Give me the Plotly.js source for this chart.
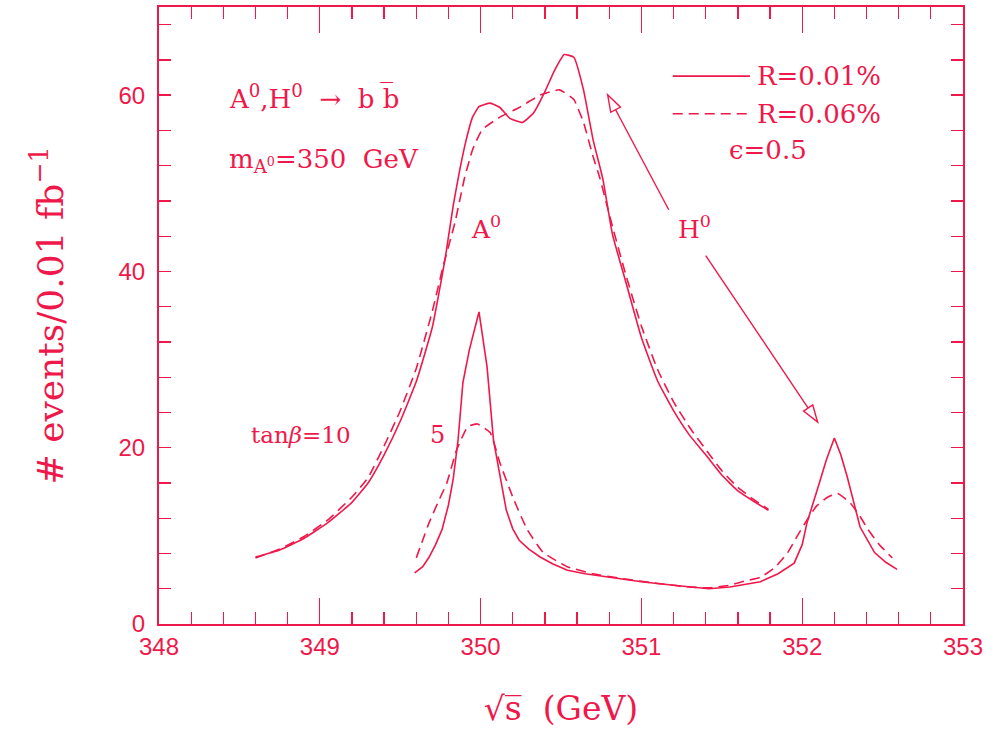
<!DOCTYPE html>
<html>
<head>
<meta charset="utf-8">
<script src="https://cdn.plot.ly/plotly-3.0.1.min.js"></script>
<style>html,body{margin:0;padding:0;background:#fff;}#chart{width:996px;height:734px;}</style>
</head>
<body>
<div id="chart"></div>
<script>
// tan(beta)=10, R=0.01% (solid)
const x10Solid = [348.6, 348.75, 348.9, 349.05, 349.2, 349.3, 349.4, 349.5, 349.6, 349.7, 349.78, 349.83, 349.87, 349.91, 349.95, 349.99, 350.06, 350.12, 350.18, 350.26, 350.33, 350.4, 350.46, 350.52, 350.58, 350.64, 350.7, 350.76, 350.82, 350.9, 351.0, 351.1, 351.2, 351.3, 351.4, 351.5, 351.6, 351.7, 351.79];
const y10Solid = [7.6, 8.4, 9.7, 11.5, 13.8, 16.0, 19.2, 23.0, 27.5, 33.7, 41.5, 47.5, 51.5, 54.9, 57.5, 58.7, 59.1, 58.6, 57.4, 56.9, 58.0, 60.4, 62.8, 64.6, 64.3, 60.6, 54.9, 50.5, 44.2, 39.0, 32.5, 27.6, 24.2, 21.4, 19.2, 16.9, 15.1, 13.9, 12.9];
// tan(beta)=10, R=0.06% (dashed)
const x10Dash = [348.6, 348.75, 348.9, 349.05, 349.2, 349.3, 349.4, 349.5, 349.6, 349.7, 349.77, 349.84, 349.9, 349.95, 350.01, 350.12, 350.24, 350.37, 350.49, 350.58, 350.64, 350.7, 350.74, 350.82, 350.9, 351.0, 351.1, 351.2, 351.3, 351.4, 351.5, 351.6, 351.7, 351.79];
const y10Dash = [7.5, 8.5, 9.9, 11.8, 14.4, 16.6, 20.2, 24.2, 29.0, 35.5, 40.8, 45.5, 50.6, 53.8, 56.1, 57.5, 58.6, 60.0, 60.6, 59.5, 56.9, 53.0, 50.7, 45.1, 39.8, 33.8, 28.9, 25.2, 22.3, 19.8, 17.4, 15.5, 14.1, 13.0];
// tan(beta)=5, R=0.01% (solid)
const x5Solid = [349.59, 349.64, 349.68, 349.72, 349.76, 349.8, 349.83, 349.86, 349.89, 349.93, 349.99, 350.04, 350.08, 350.12, 350.16, 350.2, 350.24, 350.3, 350.37, 350.45, 350.54, 350.65, 350.8, 351.0, 351.2, 351.42, 351.55, 351.65, 351.74, 351.85, 351.95, 352.0, 352.03, 352.1, 352.15, 352.2, 352.24, 352.28, 352.32, 352.36, 352.45, 352.52, 352.59];
const y5Solid = [5.8, 6.5, 7.6, 9.0, 10.7, 13.5, 16.5, 20.9, 27.4, 31.1, 35.4, 29.2, 20.9, 16.7, 12.9, 10.8, 9.5, 8.5, 7.6, 6.8, 6.1, 5.7, 5.3, 4.8, 4.4, 4.0, 4.2, 4.5, 4.8, 5.7, 6.9, 9.0, 11.5, 15.6, 18.6, 21.1, 19.2, 16.7, 13.8, 11.0, 8.1, 7.0, 6.2];
// tan(beta)=5, R=0.06% (dashed)
const x5Dash = [349.6, 349.68, 349.74, 349.79, 349.85, 349.92, 349.98, 350.06, 350.12, 350.2, 350.29, 350.39, 350.54, 350.7, 350.9, 351.1, 351.3, 351.42, 351.55, 351.65, 351.74, 351.83, 351.91, 351.97, 352.03, 352.09, 352.16, 352.22, 352.3, 352.36, 352.41, 352.48, 352.56];
const y5Dash = [7.5, 11.5, 14.0, 16.0, 19.7, 22.4, 22.7, 21.7, 18.3, 14.4, 10.7, 8.1, 6.5, 5.7, 5.1, 4.6, 4.2, 4.1, 4.4, 4.9, 5.3, 6.4, 8.1, 10.0, 11.8, 13.4, 14.4, 14.8, 13.7, 12.2, 10.7, 9.0, 7.5];

const xTickVals = [348, 349, 350, 351, 352, 353];
const yTickVals = [0, 20, 40, 60];
const seriesNames = ["R=0.01%", "R=0.06%"];

const C = "#ef184a";
const FONT = "DejaVu Serif";
const TFONT = "Liberation Sans";
const DASH = "10px,6px";

const solid = {color: C, width: 1.6, shape: "spline", smoothing: 0.4};
const dashed = {color: C, width: 1.6, dash: DASH, shape: "spline", smoothing: 0.4};

const traces = [
  {x: x10Solid, y: y10Solid, mode: "lines", line: solid, name: seriesNames[0] + " tanβ=10", showlegend: false, hoverinfo: "skip"},
  {x: x10Dash, y: y10Dash, mode: "lines", line: dashed, name: seriesNames[1] + " tanβ=10", showlegend: false, hoverinfo: "skip"},
  {x: x5Solid, y: y5Solid, mode: "lines", line: {color: C, width: 1.6, shape: "linear"}, name: seriesNames[0] + " tanβ=5", showlegend: false, hoverinfo: "skip"},
  {x: x5Dash, y: y5Dash, mode: "lines", line: dashed, name: seriesNames[1] + " tanβ=5", showlegend: false, hoverinfo: "skip"}
];

// layout geometry
const W = 996, H = 734, mL = 159, mR = 33, mT = 7, mB = 110;
const xr = [348, 353], yr = [0, 70];
const pxX = (W - mL - mR) / (xr[1] - xr[0]);
const pxY = (H - mT - mB) / (yr[1] - yr[0]);

// arrows (open triangle heads), endpoints in data coordinates
function arrowShapes(x0, y0, x1, y1) {
  const dxp = (x1 - x0) * pxX, dyp = (y1 - y0) * pxY;
  const len = Math.hypot(dxp, dyp);
  const ux = dxp / len, uy = dyp / len;
  const L = 17, Wd = 5.5;
  const bx = -ux * L, by = -uy * L;
  const nx = -uy * Wd, ny = ux * Wd;
  const p1 = [x1 + (bx + nx) / pxX, y1 + (by + ny) / pxY];
  const p2 = [x1 + (bx - nx) / pxX, y1 + (by - ny) / pxY];
  const base = [x1 + bx / pxX, y1 + by / pxY];
  return [
    {type: "line", xref: "x", yref: "y", x0: x0, y0: y0, x1: base[0], y1: base[1], line: {color: C, width: 1.4}},
    {type: "path", xref: "x", yref: "y", path: `M ${x1} ${y1} L ${p1[0]} ${p1[1]} L ${p2[0]} ${p2[1]} Z`, line: {color: C, width: 1.4}, fillcolor: "rgba(0,0,0,0)"}
  ];
}

const shapes = [].concat(
  arrowShapes(351.17, 47.0, 350.79, 60.05),
  arrowShapes(351.40, 41.8, 352.096, 22.9),
  [
    {type: "line", xref: "paper", yref: "paper", x0: 0.639, x1: 0.735, y0: 0.888, y1: 0.888, line: {color: C, width: 1.6}},
    {type: "line", xref: "paper", yref: "paper", x0: 0.639, x1: 0.735, y0: 0.827, y1: 0.827, line: {color: C, width: 1.6, dash: DASH}}
  ]
);

function ann(text, x, y, size, anchor) {
  return {text: text, x: x, y: y, xref: "paper", yref: "paper", xanchor: anchor || "left", yanchor: "middle", showarrow: false, font: {family: FONT, size: size || 24, color: C}};
}

const NB = "\u00a0";
const annotations = [
  ann("A<sup>0</sup>,H<sup>0</sup>" + NB + NB + "→" + NB + NB + "b" + NB + "b\u0305", 0.0847, 0.854, 26),
  ann("m<sub>A<sup>0</sup></sub>=350" + NB + NB + "GeV", 0.0847, 0.752, 26),
  ann("A<sup>0</sup>", 0.386, 0.642, 25),
  ann("H<sup>0</sup>", 0.643, 0.642, 25),
  ann("tan<i>β</i>=10", 0.112, 0.306, 23),
  ann("5", 0.334, 0.306, 24),
  ann(seriesNames[0], 0.741, 0.888, 26),
  ann(seriesNames[1], 0.741, 0.827, 26),
  ann("ϵ=0.5", 0.706, 0.768, 26)
];

const layout = {
  width: W, height: H,
  margin: {l: mL, r: mR, t: mT, b: mB},
  paper_bgcolor: "#fff", plot_bgcolor: "#fff",
  showlegend: false,
  xaxis: {
    range: xr, tickvals: xTickVals, ticktext: xTickVals.map(String),
    ticks: "inside", ticklen: 26, tickwidth: 1.3, tickcolor: C,
    minor: {dtick: 0.2, ticks: "inside", ticklen: 12, tickwidth: 1.3, tickcolor: C, showgrid: false},
    showline: true, linecolor: C, linewidth: 2, mirror: "ticks",
    showgrid: false, zeroline: false,
    tickfont: {family: TFONT, size: 24, color: C},
    title: {text: "√s\u0305" + NB + NB + "(GeV)", font: {family: FONT, size: 33, color: C}, standoff: 38}
  },
  yaxis: {
    range: yr, tickvals: yTickVals, ticktext: yTickVals.map(String),
    ticks: "inside", ticklen: 12, tickwidth: 1.3, tickcolor: C, ticklabelstandoff: 7,
    minor: {dtick: 4, ticks: "inside", ticklen: 12, tickwidth: 1.3, tickcolor: C, showgrid: false},
    showline: true, linecolor: C, linewidth: 2, mirror: "ticks",
    showgrid: false, zeroline: false,
    tickfont: {family: TFONT, size: 24, color: C},
    title: {text: "#" + NB + "events/0.01" + NB + "fb<sup>−1</sup>", font: {family: FONT, size: 36, color: C}, standoff: 44}
  },
  shapes: shapes,
  annotations: annotations
};

Plotly.newPlot("chart", traces, layout, {staticPlot: true, displayModeBar: false});
</script>
</body>
</html>
